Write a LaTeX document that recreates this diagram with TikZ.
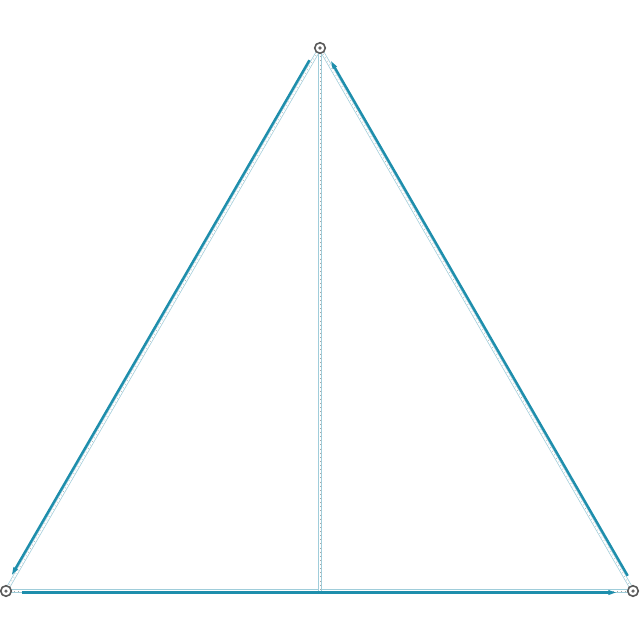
\documentclass[tikz,border=0pt]{standalone}
\usetikzlibrary{calc,arrows.meta}
\definecolor{tealc}{RGB}{30,142,172}
\definecolor{guide}{RGB}{160,205,218}
\begin{document}
\begin{tikzpicture}[x=0.02cm,y=-0.02cm,
  vert/.style={circle,draw=black!65,line width=0.9pt,fill=white,inner sep=0pt,minimum size=6pt,
    path picture={\fill[black!60] (path picture bounding box.center) circle (1pt);}},
  guideline/.style={draw=guide,line width=0.4pt,double=white,double distance=1.2pt},
  dotline/.style={draw=black!35,line width=0.35pt,dotted},
  tealline/.style={draw=tealc,line width=1.4pt,-{Stealth[length=5pt,width=2.4pt,inset=0pt]}}]
\useasboundingbox (0,0) rectangle (640,640);
\fill[white] (0,0) rectangle (640,640);
\coordinate (H) at (320,591);
% guide lines
\path (320,48) coordinate (pA) (6,591) coordinate (pB) (633,591) coordinate (pC);
\draw[guideline] (pA) -- (pB);
\draw[guideline] (pB) -- (pC);
\draw[guideline] (pC) -- (pA);
\draw[guideline] (pA) -- (H);
\draw[dotline] (pA) -- (pB);
\draw[dotline] (pB) -- (pC);
\draw[dotline] (pC) -- (pA);
\draw[dotline] (pA) -- (H);
% teal vectors
\draw[tealline] ($(pA)!9pt!(pB)+(-2.6,-1.5)$) -- ($(pB)!9pt!(pA)+(-2.6,-1.5)$);
\draw[tealline] ($(pB)!9pt!(pC)+(0,1.5)$) -- ($(pC)!9pt!(pB)+(0,1.5)$);
\draw[tealline] ($(pC)!9pt!(pA)+(2.6,-1.5)$) -- ($(pA)!9pt!(pC)+(2.6,-1.5)$);
% vertices
\node[vert] (A) at (pA) {};
\node[vert] (B) at (pB) {};
\node[vert] (C) at (pC) {};
\end{tikzpicture}
\end{document}
